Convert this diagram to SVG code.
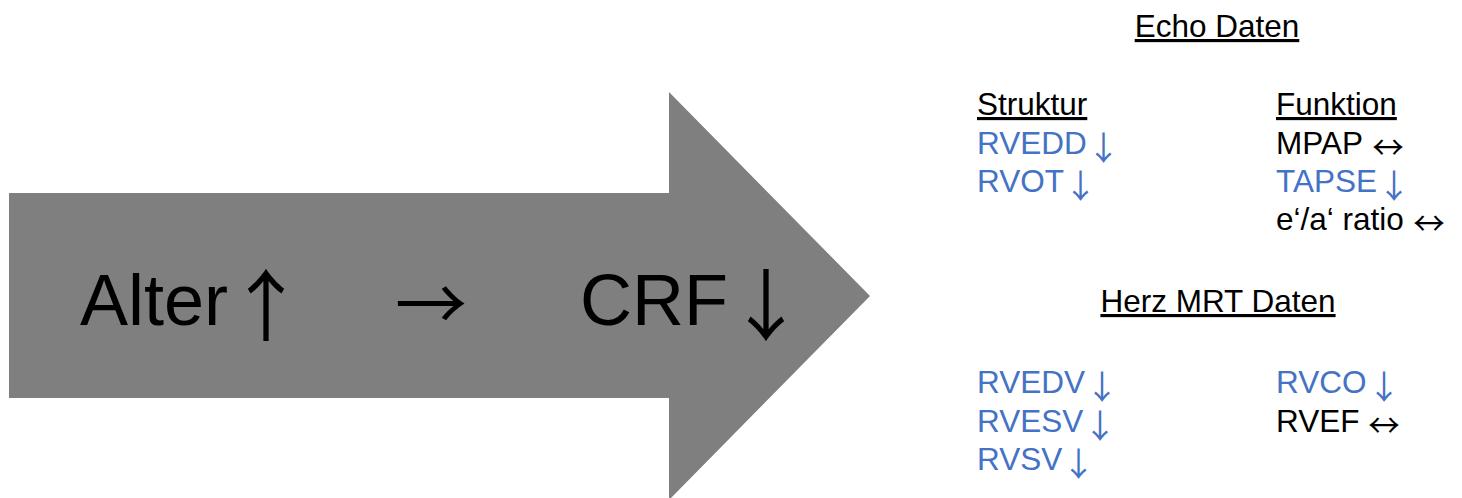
<svg xmlns="http://www.w3.org/2000/svg" width="1462" height="498" viewBox="0 0 1462 498">
  <style>
    text { font-family: "Liberation Sans", Arial, sans-serif; }
    .big { font-size: 72px; fill: #000; }
    .t { font-size: 31.5px; fill: #000; }
    .blue { fill: #4472C4; }
    .head { text-decoration: underline; }
    .arr { font-family: "Noto Sans CJK JP", "DejaVu Sans", sans-serif; text-anchor: middle; }
    .bigv { font-size: 78px; }
    .v { font-size: 33px; }
    .h { font-size: 32px; }
  </style>
  <rect width="1462" height="498" fill="#ffffff"/>

  <!-- Main block arrow: age rises, cardiorespiratory fitness falls -->
  <g id="main-arrow">
    <polygon points="9,193 669,193 669,92 870,296 669,500 669,398 9,398" fill="#7f7f7f"/>
    <text class="big" x="80" y="325">Alter</text>
    <text class="big arr bigv" x="266" y="334.5">↑</text>
    <text class="big arr" x="431" y="330">→</text>
    <text class="big" x="580" y="325">CRF</text>
    <text class="big arr bigv" x="766" y="334.5">↓</text>
  </g>

  <!-- Echocardiography findings -->
  <g id="echo">
    <text class="t head" x="1217" y="37" text-anchor="middle">Echo Daten</text>
    <g id="echo-struktur">
      <text class="t head" x="977" y="115">Struktur</text>
      <text class="t blue" x="977" y="154">RVEDD</text>
      <text class="t blue arr v" x="1103.5" y="159.7">↓</text>
      <text class="t blue" x="977" y="192">RVOT</text>
      <text class="t blue arr v" x="1080.5" y="197.7">↓</text>
    </g>
    <g id="echo-funktion">
      <text class="t head" x="1276" y="115">Funktion</text>
      <text class="t" x="1276" y="154">MPAP</text>
      <text class="t arr h" x="1388" y="159">↔</text>
      <text class="t blue" x="1276" y="192">TAPSE</text>
      <text class="t blue arr v" x="1394" y="197.7">↓</text>
      <text class="t" x="1276" y="230">e‘/a‘ ratio</text>
      <text class="t arr h" x="1429" y="235">↔</text>
    </g>
  </g>

  <!-- Cardiac MRI findings -->
  <g id="mrt">
    <text class="t head" x="1218" y="312" text-anchor="middle">Herz MRT Daten</text>
    <g id="mrt-left">
      <text class="t blue" x="977" y="393">RVEDV</text>
      <text class="t blue arr v" x="1102" y="398.7">↓</text>
      <text class="t blue" x="977" y="432">RVESV</text>
      <text class="t blue arr v" x="1100" y="437.7">↓</text>
      <text class="t blue" x="977" y="470">RVSV</text>
      <text class="t blue arr v" x="1078.5" y="475.7">↓</text>
    </g>
    <g id="mrt-right">
      <text class="t blue" x="1276" y="393">RVCO</text>
      <text class="t blue arr v" x="1384" y="398.7">↓</text>
      <text class="t" x="1276" y="432">RVEF</text>
      <text class="t arr h" x="1384" y="437">↔</text>
    </g>
  </g>

  <g id="connectors"/>
</svg>
